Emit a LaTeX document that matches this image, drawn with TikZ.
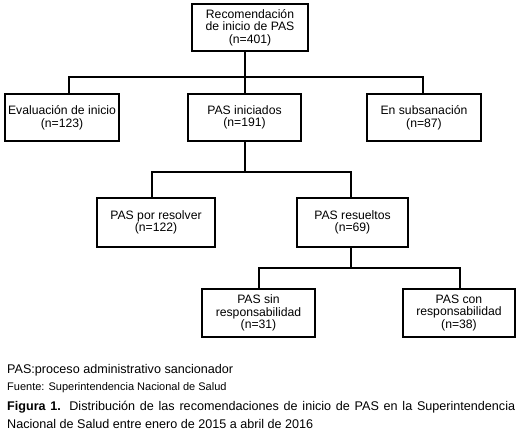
\documentclass[tikz,border=0pt]{standalone}
\usepackage{fontspec}
\setmainfont{Liberation Sans}
\begin{document}
\begin{tikzpicture}[x=1pt,y=-1pt,
  box/.style={draw,line width=1.6pt,align=center,inner sep=0pt,font=\fontsize{12.2}{12.6}\selectfont},
  conn/.style={line width=1.6pt},
  captext/.style={anchor=base west,inner sep=0pt,font=\fontsize{12.6}{14}\selectfont}]
\useasboundingbox (0,0) rectangle (520,436);
\node[box,minimum width=116pt,minimum height=47pt] (top) at (250,27.5) {Recomendación\\de inicio de PAS\\(n=401)};
\node[box,minimum width=114pt,minimum height=47pt] (eval) at (62,117.5) {Evaluación de inicio\\(n=123)};
\node[box,minimum width=113pt,minimum height=47pt] (ini) at (244.5,117.5) {PAS iniciados\\(n=191)};
\node[box,minimum width=114pt,minimum height=47pt] (sub) at (424,117.5) {En subsanación\\(n=87)};
\node[box,minimum width=118pt,minimum height=49pt] (porres) at (156,222.5) {PAS por resolver\\(n=122)};
\node[box,minimum width=111pt,minimum height=49pt] (res) at (352.5,222.5) {PAS resueltos\\(n=69)};
\node[box,minimum width=113pt,minimum height=48pt] (sin) at (258.5,313) {PAS sin\\responsabilidad\\(n=31)};
\node[box,minimum width=112pt,minimum height=48pt] (con) at (459,313) {PAS con\\responsabilidad\\(n=38)};
\coordinate (b1) at (245,77);
\coordinate (b2) at (245,172);
\coordinate (b3) at (351,268);
\draw[conn] (b1 |- top.south) -- (b1) -- (b1 |- ini.north);
\draw[conn] ([xshift=7pt]eval.north) |- (b1) -| ([xshift=-1pt]sub.north);
\draw[conn] (b2 |- ini.south) -- (b2);
\draw[conn] ([xshift=-4pt]porres.north) |- (b2) -| (b3 |- res.north);
\draw[conn] (b3 |- res.south) -- (b3);
\draw[conn] ([xshift=0.5pt]sin.north) |- (b3) -| ([xshift=1pt]con.north);
\node[captext] (abbr) at (7,373) {PAS:proceso administrativo sancionador};
\node[captext,font=\fontsize{11}{12}\selectfont] (src) at (7,390) {Fuente: Superintendencia Nacional de Salud};
\node[captext] (fig1) at (7,410) {\hbox to 508pt{\textbf{Figura 1.} Distribución de las recomendaciones de inicio de PAS en la Superintendencia}};
\node[captext] (fig2) at (7,428) {Nacional de Salud entre enero de 2015 a abril de 2016};
\end{tikzpicture}
\end{document}
